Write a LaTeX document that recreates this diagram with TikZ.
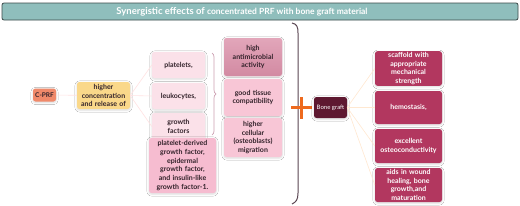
\documentclass[tikz,border=0pt]{standalone}
\usepackage{fontspec}
\setmainfont{Lato}
\usetikzlibrary{arrows.meta,positioning,decorations.pathreplacing,shadows.blur}
\definecolor{txtdark}{RGB}{50,34,42}
\definecolor{titlefill}{RGB}{143,190,188}
\definecolor{titledraw}{RGB}{60,74,74}
\definecolor{cprfcolor}{RGB}{240,137,106}
\definecolor{conccolor}{RGB}{250,216,138}
\definecolor{softpink}{RGB}{251,225,233}
\definecolor{pdgfcolor}{RGB}{246,188,208}
\definecolor{mauvetop}{RGB}{226,166,186}
\definecolor{mauvebot}{RGB}{210,138,162}
\definecolor{rosecolor}{RGB}{248,198,214}
\definecolor{bonecolor}{RGB}{94,24,48}
\definecolor{crimson}{RGB}{178,55,95}
\definecolor{plusorange}{RGB}{238,106,30}
\definecolor{bracketcol}{RGB}{90,70,82}
\definecolor{bracecol}{RGB}{205,160,178}
\newcommand{\boxfont}{\fontsize{7}{8.7}\selectfont\bfseries}
\tikzset{
  box/.style={rounded corners=2.5pt, align=center, inner sep=1pt,
    font=\boxfont, text=txtdark,
    blur shadow={shadow blur steps=6, shadow opacity=15,
                 shadow xshift=0pt, shadow yshift=-1pt}},
  softbox/.style={box, fill=softpink, minimum width=53pt, text width=51pt},
  rosebox/.style={box, fill=rosecolor, minimum width=58pt, text width=56pt},
  redbox/.style={box, fill=crimson, text=white, minimum width=67pt,
    text width=65pt, minimum height=33pt},
  linkpink/.style={line width=0.6pt, pink!45!white},
  linkbeige/.style={line width=0.6pt, orange!18!white},
  plusln/.style={line width=3pt, plusorange},
  braceln/.style={decorate, decoration={brace,amplitude=4pt},
    line width=0.7pt, bracecol},
}

\begin{document}
\begin{tikzpicture}[x=1pt, y=-1pt]
  \fill[white] (0,0) rectangle (520,206);
  \useasboundingbox (0,0) rectangle (520,206);
  % title bar
  \node[draw=titledraw, fill=titlefill, line width=0.8pt, rounded corners=2pt,
        minimum width=516pt, minimum height=17pt] (title) at (260,11.5) {};
  \node[text=white, font=\bfseries, xshift=-18pt] (titletxt) at (title)
    {\fontsize{9.5}{11}\selectfont Synergistic effects of
     \fontsize{8.5}{11}\selectfont concentrated PRF with bone graft material};
  % left branch
  \node[box, fill=cprfcolor, minimum width=23pt, minimum height=13pt,
        font=\fontsize{6.5}{8}\selectfont\bfseries] (cprf) at (44.5,95) {C-PRF};
  \node[box, fill=conccolor, minimum width=53pt, text width=51pt,
        minimum height=27pt] (conc) at (103.5,95.5)
        {higher\\concentration\\and release of};
  \node[softbox, minimum height=26pt] (plat) at (178.5,65) {platelets,};
  \node[softbox, minimum height=26pt] (leuk) at (178.5,96) {leukocytes,};
  \node[softbox, minimum height=27pt] (grow) at (178.5,126.5) {growth\\factors};
  \node[box, fill=pdgfcolor, minimum width=67pt, text width=65pt,
        minimum height=55pt] (pdgf) at (182.5,165.5)
        {platelet-derived\\growth factor,\\epidermal\\growth factor,\\and insulin-like\\growth factor-1.};
  \draw[linkpink] (cprf) -- (conc);
  \foreach \n in {plat,leuk,grow}
    \draw[linkpink] (conc.east) -- (\n.west);
  % brace over the released items
  \draw[braceln] (212,53) -- (212,135);
  % properties of C-PRF
  \node[rosebox, top color=mauvetop, bottom color=mauvebot,
        minimum height=38pt] (anti) at (253,57) {high\\antimicrobial\\activity};
  \node[rosebox, minimum height=37pt] (tiss) at (253,97.5) {good tissue\\compatibility};
  \node[rosebox, minimum height=39pt] (cell) at (253,137.5)
        {higher\\cellular\\(osteoblasts)\\migration};
  % closing bracket
  \draw[bracketcol, line width=1pt] (292,23) .. controls (297,24) and (298,27) .. (298,33)
    -- (298,193) .. controls (298,200) and (296,202) .. (292,204);
  % plus sign
  \draw[plusln] (291,107) -- (312,107);
  \draw[plusln] (301.5,97) -- (301.5,119);
  % bone graft branch
  \node[box, fill=bonecolor, text=white, minimum width=33pt, minimum height=21pt,
        font=\fontsize{6}{7}\selectfont] (bone) at (330.5,107.5) {Bone graft};
  \node[redbox] (scaf) at (408.5,68.5)
        {scaffold with\\appropriate\\mechanical\\strength};
  \node[redbox] (hemo) at (408.5,107.5) {hemostasis,};
  \node[redbox, minimum height=34pt] (osteo) at (408.5,146)
        {excellent\\osteoconductivity};
  \node[redbox, minimum height=34pt] (wound) at (408.5,185)
        {aids in wound\\healing, bone\\growth,and\\maturation};
  \foreach \n in {scaf,hemo,osteo,wound}
    \draw[linkbeige] (bone.east) -- (\n.west);
\end{tikzpicture}
\end{document}
